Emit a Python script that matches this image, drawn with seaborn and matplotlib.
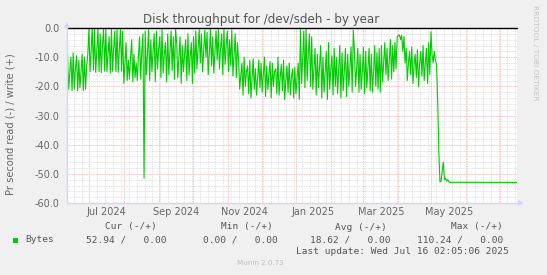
import matplotlib
matplotlib.use("Agg")
import matplotlib.pyplot as plt
import matplotlib.dates as mdates
from matplotlib.ticker import MultipleLocator, FormatStrFormatter
from matplotlib.patches import Rectangle, Polygon
import pandas as pd
import seaborn as sns

# ---------------- data ----------------
title = "Disk throughput for /dev/sdeh - by year"
y_label = "Pr second read (-) / write (+)"
series_name = "Bytes"
start_date = "2024-06-11 14:00"          # first daily sample
x_start = "2024-06-11 02:05:06"
x_end = "2025-07-16 02:05:06"

# daily read rates (plotted negative), segment by segment
read_jun = [9, 21, 15, 10, 21.5, 8.5, 21, 14, 9.5, 21.5, 11, 20.5, 15, 9, 21.5, 10, 21, 13, 9]
read_jul = [0.3, 15, 7, 0.2, 14.5, 0.5, 15.2, 8, 0.2, 15, 2, 15.3, 6, 0.3, 14.8, 0.5,
            15, 9, 3, 15.5, 0.2, 14.8, 7, 1, 15, 0.3, 15.2, 8, 0.2, 14.8, 1]
read_aug = [19, 12, 5, 18, 11, 17.5, 10, 4, 18.5, 9, 17, 12, 18, 10, 3, 17.5, 8, 2]
read_aug_spike = [51.5]
read_sep = [1, 16, 9, 0.5, 18, 4, 15, 8, 2, 18.5, 1, 14, 7, 3, 17, 0.5, 15.5, 9, 5, 18.5,
            2, 16, 8, 1, 14.5, 3, 17.5, 0.5]
read_sep_late = [5, 17, 10, 3, 19, 6, 15, 9, 4, 18, 2, 16, 10, 5, 19, 3, 15.5]
read_oct = [1, 14, 7, 0.5, 12, 2, 15, 8, 0.7, 10, 1.5, 16, 9, 0.3, 13, 3, 15.5, 8, 1, 11,
            0.5, 14, 7, 2, 16, 0.5, 12.5, 6, 1, 15, 4, 13, 0.7, 16.5, 9, 2, 17, 5]
read_nov_dec = [11, 21, 16, 12, 23, 10, 20, 15, 13, 22.5,
                11, 24, 17, 10.5, 21, 14, 23, 17, 11, 20.5,
                12, 22, 16, 10, 23.5, 13, 21, 16, 11.5, 24,
                12, 20, 15, 14, 22.5, 10, 23, 17, 12.5, 21.5,
                11, 24.5, 18, 13, 22, 12, 23, 17, 14, 24,
                13.5, 22.5, 17, 12, 24.5]
read_jan = [0.5, 19, 10, 1, 20.5, 0.3, 18, 9, 2, 20, 3]
read_jan_feb = [21, 14, 7, 23, 9, 20.5, 13, 6, 24, 10,
                22, 15, 8, 24.5, 5, 21, 14, 9.5, 23, 7,
                20, 10, 22.5, 14, 6, 24, 8.5, 21.5, 15, 7,
                23.5, 9, 20, 13, 6.5, 22]
read_feb_spike = [0.7]
read_mar = [8, 20, 14, 7, 22, 9, 21, 15, 6.5, 22.5, 8, 20.5, 14, 7, 21.5, 9, 22, 15, 6, 20,
            8.5, 21, 7]
read_mar_late = [22, 6, 18.5, 12, 5, 16, 7, 18, 11, 4, 17.5, 6, 15]
read_hump = [5, 14, 3, 2.5, 2.4, 4, 2.5, 8, 3]
read_apr = [12, 7, 18, 12, 8, 16, 6.5, 19, 13, 9, 17, 7.5, 20, 12, 8, 16.5, 6, 18, 12, 7,
            19, 5, 16]
read_apr_spike = [1.3]
read_pre_drop = [9, 12, 8, 11, 12.7]
read_drop = [25, 42, 52.7]
read_settle = [52.5, 49, 46, 52, 51.5, 52.5, 52, 52.7, 52.9]
# flat tail (constant read rate until the last update)
tail_dates = ["2025-05-17 14:00", "2025-07-16 02:00"]
tail_values = [52.94, 52.94]

month_labels = ["Jul 2024", "Sep 2024", "Nov 2024", "Jan 2025", "Mar 2025", "May 2025"]
month_label_dates = ["2024-07-16 12:00", "2024-09-16", "2024-11-16", "2025-01-16",
                     "2025-03-17", "2025-05-16 12:00"]

legend_headers = ["Cur (-/+)", "Min (-/+)", "Avg (-/+)", "Max (-/+)"]
legend_values = ["52.94 /   0.00", "0.00 /   0.00", "18.62 /   0.00", "110.24 /   0.00"]
last_update = "Last update: Wed Jul 16 02:05:06 2025"
footer = "Munin 2.0.73"
watermark = "RRDTOOL / TOBI OETIKER"

# ---------------- build frame ----------------
daily = (read_jun + read_jul + read_aug + read_aug_spike + read_sep + read_sep_late + read_oct
         + read_nov_dec + read_jan + read_jan_feb + read_feb_spike + read_mar + read_mar_late
         + read_hump + read_apr + read_apr_spike + read_pre_drop + read_drop + read_settle)
dates = list(pd.date_range(start_date, periods=len(daily), freq="D")) + list(pd.to_datetime(tail_dates))
values = daily + tail_values
df = pd.DataFrame({"date": dates, "read": values})
df["plotted"] = -df["read"]

# ---------------- style ----------------
W, H = 547, 275
sns.set_theme(style="white")
plt.rcParams["font.family"] = ["DejaVu Sans"]
plt.rcParams["axes.unicode_minus"] = False

BG = "#F0F0F0"
AXIS = "#CFD6F8"
FONT = "#666666"
MGRID = "#F0A8A8"
GRID = "#D8D8D8"
GREEN = "#00CC00"

fig = plt.figure(figsize=(W / 100, H / 100), dpi=100, facecolor=BG)
L, R, T, B = 67, 517, 28, 203
ax = fig.add_axes([L / W, 1 - B / H, (R - L) / W, (B - T) / H])
ax.set_facecolor("white")

sns.lineplot(data=df, x="date", y="plotted", ax=ax, color=GREEN, linewidth=0.8,
             estimator=None, legend=False, zorder=3)
ax.axhline(0, color="black", linewidth=1.0, zorder=4, clip_on=False)

ax.set_xlim(pd.Timestamp(x_start), pd.Timestamp(x_end))
ax.set_ylim(-60, 0)

# grids
ax.xaxis.set_major_locator(mdates.MonthLocator())
ax.xaxis.set_minor_locator(mdates.WeekdayLocator(byweekday=mdates.MO))
ax.xaxis.set_major_formatter(plt.NullFormatter())
ax.yaxis.set_major_locator(MultipleLocator(10))
ax.yaxis.set_minor_locator(MultipleLocator(2))
ax.yaxis.set_major_formatter(FormatStrFormatter("%.1f"))
ax.grid(which="minor", color=GRID, linestyle=(0, (1, 1)), linewidth=0.6, zorder=1)
ax.grid(which="major", color=MGRID, linestyle=(0, (1, 1)), linewidth=0.6, zorder=2)
ax.set_axisbelow(True)

ax.tick_params(axis="both", which="major", length=3, width=0.6, color=MGRID,
               direction="inout", labelsize=7, labelcolor=FONT, pad=2)
ax.tick_params(axis="both", which="minor", length=2, width=0.6, color="#BBBBBB", direction="inout")
ax.tick_params(axis="y", which="major", pad=4)

for s in ["top", "right"]:
    ax.spines[s].set_visible(False)
for s in ["left", "bottom"]:
    ax.spines[s].set_color(AXIS)
    ax.spines[s].set_linewidth(1.0)
    ax.spines[s].set_zorder(5)

ax.set_xlabel("")
ax.set_ylabel("")

# month labels centred in their month
xt = ax.get_xaxis_transform()
for lab, d in zip(month_labels, month_label_dates):
    ax.text(pd.Timestamp(d), -9 / (B - T), lab, transform=xt, ha="center", va="center",
            fontsize=7, color=FONT)

# axis arrows
fig.add_artist(Polygon([[L / W, 1 - 22 / H], [(L - 3) / W, 1 - 28 / H], [(L + 3) / W, 1 - 28 / H]],
                       closed=True, facecolor=AXIS, edgecolor="none", transform=fig.transFigure))
fig.add_artist(Polygon([[(R + 7) / W, 1 - B / H], [(R + 1) / W, 1 - (B - 3) / H], [(R + 1) / W, 1 - (B + 3) / H]],
                       closed=True, facecolor=AXIS, edgecolor="none", transform=fig.transFigure))
fig.add_artist(plt.Line2D([R / W, (R + 2) / W], [1 - B / H, 1 - B / H], color=AXIS, lw=1.0,
                          transform=fig.transFigure))


def fx(x):
    return x / W


def fy(y):
    return 1 - y / H


fig.text(fx(261.5), fy(19), title, ha="center", va="center", fontsize=8.6, color="#555555")
fig.text(fx(11), fy(124), y_label, ha="center", va="center", rotation=90, fontsize=7.1, color=FONT)
fig.text(fx(535), fy(5), watermark, ha="center", va="top", rotation=270, fontsize=5.4, color="#C4C4C4")

MONO = ["DejaVu Sans Mono"]
LC = "#555555"
for txt, xr in zip(legend_headers, [157, 273, 387, 503]):
    fig.text(fx(xr), fy(227), txt, ha="right", va="center", fontsize=6.8, family=MONO, color=LC)
for txt, xr in zip(legend_values, [166, 278, 391, 503]):
    fig.text(fx(xr), fy(240), txt, ha="right", va="center", fontsize=6.8, family=MONO, color=LC)
fig.text(fx(25), fy(240), series_name, ha="left", va="center", fontsize=6.8, family=MONO, color=LC)
fig.add_artist(Rectangle((fx(13), fy(243)), 5 / W, 5 / H, facecolor=GREEN, edgecolor="none",
                         transform=fig.transFigure))
fig.text(fx(509), fy(252), last_update, ha="right", va="center", fontsize=6.8, family=MONO, color=LC)
fig.text(fx(260), fy(263), footer, ha="center", va="center", fontsize=5.1, color="#BBBBBB")

fig.savefig("out.png", dpi=100, facecolor=BG)
